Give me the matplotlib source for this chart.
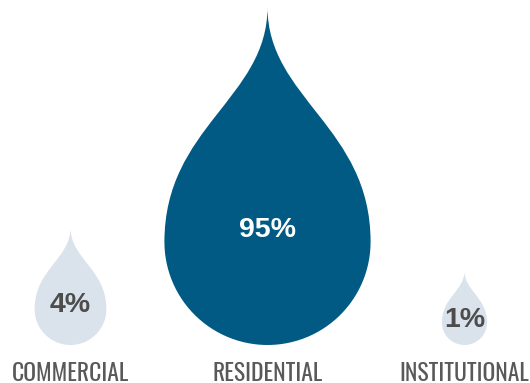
import numpy as np
import matplotlib
matplotlib.use("Agg")
import matplotlib.pyplot as plt
from matplotlib.path import Path
from matplotlib.patches import PathPatch

# data
categories = ["COMMERCIAL", "RESIDENTIAL", "INSTITUTIONAL"]
shares = [4, 95, 1]
pct_labels = ["4%", "95%", "1%"]

drop_colors = ["#dae3ec", "#005a84", "#dae3ec"]
pct_colors = ["#4d4d4d", "#ffffff", "#4d4d4d"]

W, H = 530, 383
base_y = 345          # bottom of every drop (px)
max_h = 338           # height of the largest drop (px)
spacing = 197
first_x = 70.5


def unit_drop():
    # drop of height 1, bottom at v=0, tip at v=1
    r = 0.305
    c = 0.305
    k1, k2 = 0.34, 0.27
    t = np.linspace(0, np.pi, 60)
    # bottom half circle, left -> right
    arc_x = -r * np.cos(t)
    arc_y = c - r * np.sin(t)
    verts = [(-r, c)]
    codes = [Path.MOVETO]
    for x, y in zip(arc_x[1:], arc_y[1:]):
        verts.append((x, y))
        codes.append(Path.LINETO)
    # right side up to the tip, then back down the left side
    verts += [(r, c + k1), (0, 1 - k2), (0, 1)]
    codes += [Path.CURVE4] * 3
    verts += [(0, 1 - k2), (-r, c + k1), (-r, c)]
    codes += [Path.CURVE4] * 3
    verts.append((-r, c))
    codes.append(Path.CLOSEPOLY)
    return np.array(verts), codes


fig = plt.figure(figsize=(W / 100, H / 100), dpi=100)
ax = fig.add_axes([0, 0, 1, 1])
ax.set_xlim(0, W)
ax.set_ylim(H, 0)
ax.axis("off")

uv, codes = unit_drop()
vmax = max(shares)
for i, (cat, val) in enumerate(zip(categories, shares)):
    cx = first_x + spacing * i
    # drop size scales with the cube root of the share (volume)
    h = max_h * (val / vmax) ** (1 / 3)
    verts = np.column_stack([cx + uv[:, 0] * h, base_y - uv[:, 1] * h])
    ax.add_patch(PathPatch(Path(verts, codes), facecolor=drop_colors[i],
                           edgecolor="none"))
    ax.text(cx, base_y - 0.34 * h, pct_labels[i], ha="center", va="center",
            fontsize=20.5, fontweight="bold", color=pct_colors[i],
            family=["Liberation Sans", "DejaVu Sans"])
    ax.text(cx, 381, cat, ha="center", va="baseline", fontsize=17,
            color="#595959", family=["Oswald", "DejaVu Sans"])

fig.savefig("out.png", dpi=100)
